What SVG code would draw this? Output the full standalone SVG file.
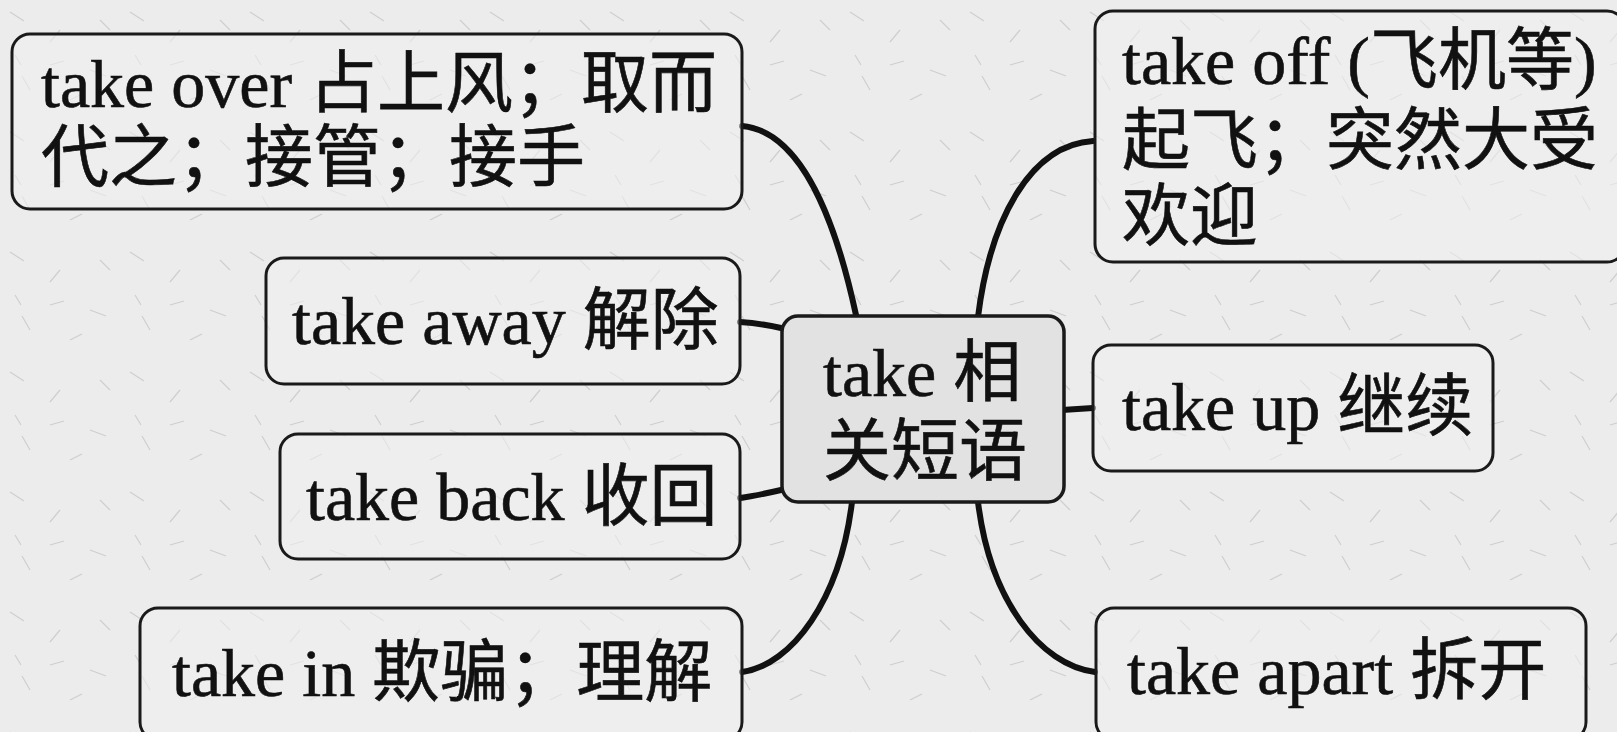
<svg xmlns="http://www.w3.org/2000/svg" width="1617" height="732" viewBox="0 0 1617 732">
  <style>
    .box { fill: #f1f1f1; fill-opacity: 0.55; stroke: #1a1a1a; stroke-width: 3; }
    .center { fill: #e2e2e2; stroke: #1a1a1a; stroke-width: 3.5; }
    .txt { font-family: "Liberation Serif", "Noto Sans CJK SC", serif; font-size: 68px; fill: #111; stroke: #111; stroke-width: 0.6; }
    .conn { fill: none; stroke: #111; stroke-width: 6; stroke-linecap: round; }
  </style>
  <defs>
    <pattern id="paper" width="120" height="120" patternUnits="userSpaceOnUse">
      <rect width="120" height="120" fill="#ececec"/>
      <path d="M10 12 l14 9 M60 30 l-10 12 M90 70 l16 6 M30 90 l-8 -14 M100 20 l10 10 M70 100 l12 -6 M15 55 l6 10 M50 65 l14 -4" stroke="#cfcfcf" stroke-width="1.2" fill="none"/>
    </pattern>
  </defs>
  <rect width="1617" height="732" fill="url(#paper)"/>

  <g id="connectors">
    <path class="conn" d="M742,126 C810,132 842,250 856,315"/>
    <path class="conn" d="M740,322 C755,323 768,325 781,328"/>
    <path class="conn" d="M740,498 C755,496 768,493 781,490"/>
    <path class="conn" d="M852,502 C840,600 792,665 742,672"/>
    <path class="conn" d="M978,317 C990,220 1030,145 1093,141"/>
    <path class="conn" d="M1062,410 L1093,408"/>
    <path class="conn" d="M978,502 C990,600 1040,665 1095,672"/>
  </g>

  <g id="node-center">
    <rect class="center" x="782" y="316" width="282" height="186" rx="16"/>
    <text class="txt" x="823" y="396">take 相</text>
    <text class="txt" x="823" y="475">关短语</text>
  </g>

  <g id="node-take-over">
    <rect class="box" x="12" y="34" width="730" height="175" rx="18"/>
    <text class="txt" x="41" y="107">take over 占上风；取而</text>
    <text class="txt" x="41" y="181">代之；接管；接手</text>
  </g>

  <g id="node-take-away">
    <rect class="box" x="266" y="258" width="474" height="126" rx="18"/>
    <text class="txt" x="292" y="344">take away 解除</text>
  </g>

  <g id="node-take-back">
    <rect class="box" x="280" y="434" width="460" height="125" rx="18"/>
    <text class="txt" x="306" y="520">take back 收回</text>
  </g>

  <g id="node-take-in">
    <rect class="box" x="140" y="608" width="602" height="132" rx="18"/>
    <text class="txt" x="172" y="696">take in 欺骗；理解</text>
  </g>

  <g id="node-take-off">
    <rect class="box" x="1095" y="11" width="530" height="251" rx="18"/>
    <text class="txt" x="1122" y="84">take off (飞机等)</text>
    <text class="txt" x="1122" y="164">起飞；突然大受</text>
    <text class="txt" x="1122" y="240">欢迎</text>
  </g>

  <g id="node-take-up">
    <rect class="box" x="1093" y="345" width="400" height="126" rx="18"/>
    <text class="txt" x="1122" y="430">take up 继续</text>
  </g>

  <g id="node-take-apart">
    <rect class="box" x="1096" y="608" width="490" height="132" rx="18"/>
    <text class="txt" x="1127" y="694">take apart 拆开</text>
  </g>
</svg>
